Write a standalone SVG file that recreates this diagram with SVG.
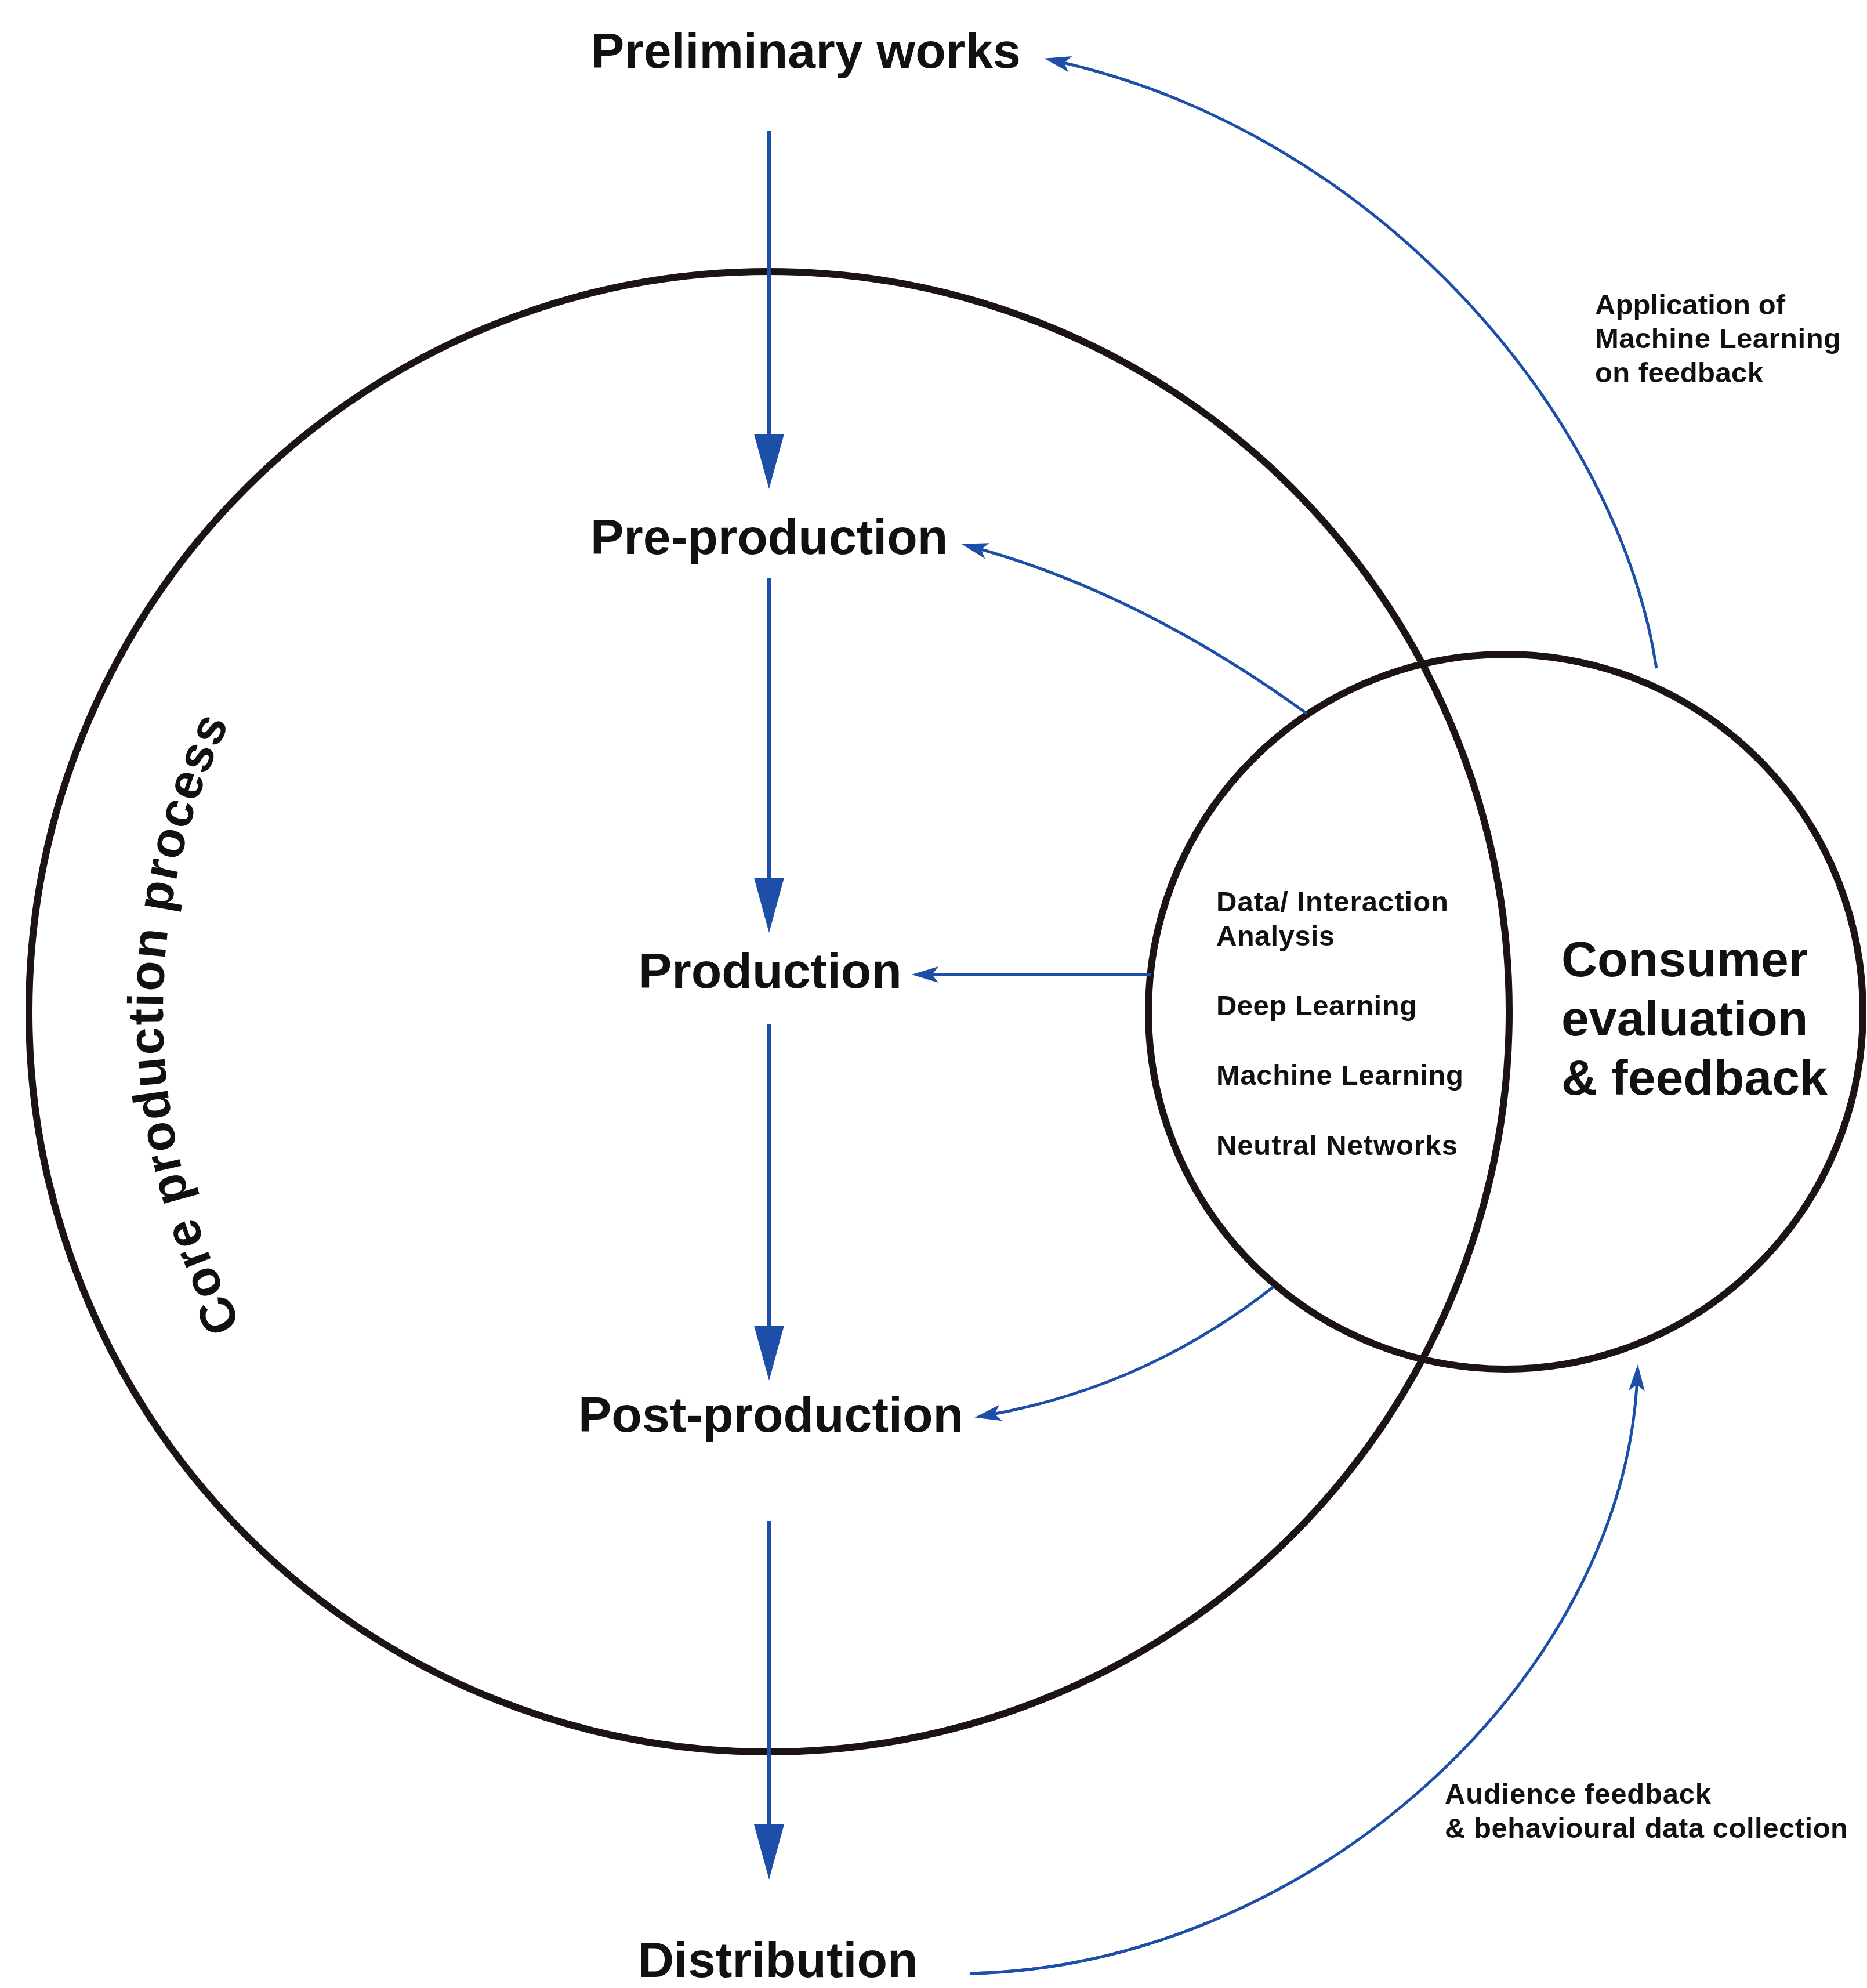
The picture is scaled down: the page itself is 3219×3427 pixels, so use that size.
<svg xmlns="http://www.w3.org/2000/svg" width="3219" height="3427" viewBox="0 0 3219 3427">
  <style>
    .ring { fill: none; stroke: #1b1412; stroke-width: 12; }
    .flow { fill: none; stroke: #1d4ea8; stroke-width: 7; }
    .feed { fill: none; stroke: #1d4ea8; stroke-width: 5; }
    .stage { font-family: "Liberation Sans", Arial, sans-serif; font-weight: bold; font-size: 86px; fill: #111; }
    .note { font-family: "Liberation Sans", Arial, sans-serif; font-weight: bold; font-size: 49px; fill: #111; }
  </style>
  <defs>
    <!-- long straight head for the main production flow -->
    <marker id="headLong" markerUnits="userSpaceOnUse" viewBox="0 0 96 52" markerWidth="96" markerHeight="52" refX="60" refY="26" orient="auto" overflow="visible">
      <path d="M0,0 L95,26 L0,52 Z" fill="#1d4ea8"/>
    </marker>
    <!-- small barbed head for the feedback loops -->
    <marker id="headBarb" markerUnits="userSpaceOnUse" viewBox="0 0 46 28" markerWidth="46" markerHeight="28" refX="26" refY="14" orient="auto" overflow="visible">
      <path d="M0,0 L46,14 L0,28 L11,14 Z" fill="#1d4ea8"/>
    </marker>
    <path id="coreArc" d="M 610 2544 A 1137 1137 0 0 1 610 944"/>
  </defs>

  <rect width="3219" height="3427" fill="#ffffff"/>

  <!-- circles -->
  <g id="core-circle">
    <circle class="ring" cx="1326" cy="1744" r="1276"/>
    <text class="stage" font-size="88"><textPath href="#coreArc" startOffset="864" text-anchor="middle" textLength="1075">Core production process</textPath></text>
  </g>
  <g id="consumer-circle">
    <circle class="ring" cx="2596" cy="1744" r="616"/>
    <text class="stage" x="2692" y="1683">Consumer</text>
    <text class="stage" x="2692" y="1785">evaluation</text>
    <text class="stage" x="2692" y="1887">&amp; feedback</text>
  </g>

  <!-- stage nodes -->
  <g id="preliminary"><text class="stage" x="1019" y="117">Preliminary works</text></g>
  <g id="pre-production"><text class="stage" x="1018" y="955">Pre-production</text></g>
  <g id="production"><text class="stage" x="1101" y="1703">Production</text></g>
  <g id="post-production"><text class="stage" x="997" y="2468">Post-production</text></g>
  <g id="distribution"><text class="stage" x="1100" y="3408">Distribution</text></g>

  <!-- techniques in the overlap -->
  <g id="techniques">
    <text class="note" x="2097" y="1571" textLength="400">Data/ Interaction</text>
    <text class="note" x="2097" y="1630" textLength="204">Analysis</text>
    <text class="note" x="2097" y="1750" textLength="346">Deep Learning</text>
    <text class="note" x="2097" y="1870" textLength="426">Machine Learning</text>
    <text class="note" x="2097" y="1991" textLength="416">Neutral Networks</text>
  </g>

  <!-- loop labels -->
  <g id="ml-label">
    <text class="note" x="2750" y="542" textLength="328">Application of</text>
    <text class="note" x="2750" y="600" textLength="424">Machine Learning</text>
    <text class="note" x="2750" y="659" textLength="290">on feedback</text>
  </g>
  <g id="audience-label">
    <text class="note" x="2491" y="3109" textLength="459">Audience feedback</text>
    <text class="note" x="2491" y="3168" textLength="695">&amp; behavioural data collection</text>
  </g>

  <!-- connectors -->
  <g id="connectors">
    <line class="flow" x1="1326" y1="225" x2="1326" y2="808" marker-end="url(#headLong)"/>
    <line class="flow" x1="1326" y1="996" x2="1326" y2="1573" marker-end="url(#headLong)"/>
    <line class="flow" x1="1326" y1="1766" x2="1326" y2="2345" marker-end="url(#headLong)"/>
    <line class="flow" x1="1326" y1="2622" x2="1326" y2="3205" marker-end="url(#headLong)"/>

    <line class="feed" x1="1984" y1="1680" x2="1592" y2="1680" marker-end="url(#headBarb)"/>
    <path class="feed" d="M 2253 1230 Q 1964 1021 1677 943" marker-end="url(#headBarb)"/>
    <path class="feed" d="M 2196 2218 Q 1975 2392 1700 2440" marker-end="url(#headBarb)"/>
    <path class="feed" d="M 2856 1152 C 2790 720 2380 230 1820 105" marker-end="url(#headBarb)"/>
    <path class="feed" d="M 1672 3402 C 2250 3390 2800 2900 2823 2372" marker-end="url(#headBarb)"/>
    <!-- brush-like thickening where the audience loop leaves Distribution -->
    <path class="feed" d="M 1672 3402 C 2250 3390 2800 2900 2823 2372" stroke-width="9" stroke-dasharray="420 4000"/>
  </g>
</svg>
